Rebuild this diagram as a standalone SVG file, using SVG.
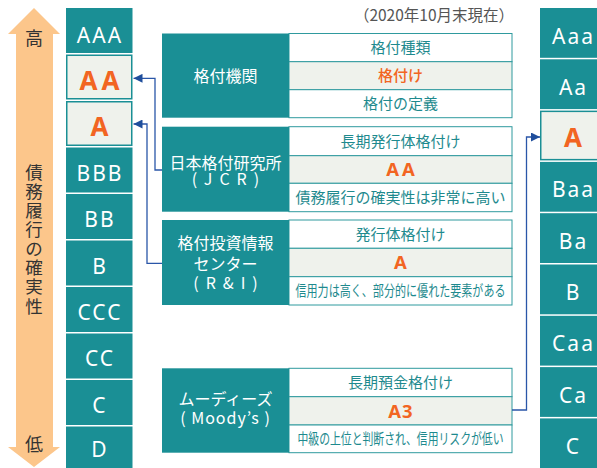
<svg xmlns="http://www.w3.org/2000/svg" width="597" height="468" viewBox="0 0 597 468">
<defs>
<style>
.cell{fill:#1a8f95}
.hl{fill:#eff2ec;stroke:#1a8f95;stroke-width:1.5}
.rt{font-family:"Noto Sans","Noto Sans CJK JP",sans-serif;font-size:21px;fill:#fff;text-anchor:middle;letter-spacing:2px}
.ro{font-family:"Noto Sans","Noto Sans CJK JP",sans-serif;font-size:26px;font-weight:bold;fill:#f26522;text-anchor:middle;letter-spacing:4px}
.jp{font-family:"Noto Sans CJK JP",sans-serif}
.lbl{font-family:"Noto Sans CJK JP",sans-serif;font-size:16px;fill:#fff;text-anchor:middle}
.tt{font-family:"Noto Sans CJK JP",sans-serif;font-size:15px;fill:#1e8a8e;text-anchor:middle}
.to{font-family:"Noto Sans CJK JP",sans-serif;font-size:15px;font-weight:500;fill:#f26522;text-anchor:middle}
.tb{font-family:"Noto Sans","Noto Sans CJK JP",sans-serif;font-size:18.5px;font-weight:bold;fill:#f26522;text-anchor:middle}
.box{fill:#fff;stroke:#2f9a9e;stroke-width:1}
.mid{fill:#eff2ec;stroke:#2f9a9e;stroke-width:1}
.con{fill:none;stroke:#2a56a8;stroke-width:1.3}
</style>
<marker id="ah" viewBox="0 0 10 10" refX="10" refY="5" markerUnits="userSpaceOnUse" markerWidth="9" markerHeight="9" orient="auto">
<path d="M0,0 L10,5 L0,10 z" fill="#1f4e9c"/>
</marker>
</defs>

<g id="axis">
<polygon points="34,8 60,34 53,34 53,447 60,447 34,467 8,447 16,447 16,34 8,34" fill="#fcc68b"/>
<text class="jp" x="34" y="45" font-size="18" fill="#333" text-anchor="middle">高</text>
<text class="jp" x="34" y="451" font-size="18" fill="#333" text-anchor="middle">低</text>
<text class="jp" font-size="17.5" fill="#333" text-anchor="middle">
<tspan x="34" y="179">債</tspan><tspan x="34" y="198">務</tspan><tspan x="34" y="217">履</tspan><tspan x="34" y="236">行</tspan><tspan x="34" y="255">の</tspan><tspan x="34" y="274">確</tspan><tspan x="34" y="293">実</tspan><tspan x="34" y="313">性</tspan>
</text>
</g>

<g id="scale-left">
<rect class="cell" x="66" y="8" width="66.5" height="45"/>
<text class="rt" x="100" y="42.5">AAA</text>
<rect class="hl" x="66.75" y="55.25" width="65" height="43.5"/>
<text class="ro" x="101.5" y="90">AA</text>
<rect class="hl" x="66.75" y="101.75" width="65" height="43.5"/>
<text class="ro" x="101.5" y="136" font-size="27">A</text>
<rect class="cell" x="66" y="147.5" width="66.5" height="45"/>
<text class="rt" x="100" y="180.5">BBB</text>
<rect class="cell" x="66" y="194" width="66.5" height="45"/>
<text class="rt" x="100" y="227">BB</text>
<rect class="cell" x="66" y="240.5" width="66.5" height="45"/>
<text class="rt" x="100" y="273.5">B</text>
<rect class="cell" x="66" y="287" width="66.5" height="45"/>
<text class="rt" x="100" y="320">CCC</text>
<rect class="cell" x="66" y="333.5" width="66.5" height="45"/>
<text class="rt" x="100" y="366">CC</text>
<rect class="cell" x="66" y="380" width="66.5" height="45"/>
<text class="rt" x="100" y="412.5">C</text>
<rect class="cell" x="66" y="426.5" width="66.5" height="42"/>
<text class="rt" x="100" y="457">D</text>
</g>

<g id="scale-right">
<rect class="cell" x="540" y="8" width="66" height="49.8"/>
<text class="rt" x="573.5" y="43.5">Aaa</text>
<rect class="cell" x="540" y="59.3" width="66" height="49.8"/>
<text class="rt" x="573.5" y="94.8">Aa</text>
<rect class="hl" x="540.75" y="111.35" width="66" height="48.3"/>
<text class="ro" x="575" y="147" font-size="24">A</text>
<rect class="cell" x="540" y="161.9" width="66" height="49.8"/>
<text class="rt" x="573.5" y="197.4">Baa</text>
<rect class="cell" x="540" y="213.2" width="66" height="49.8"/>
<text class="rt" x="573.5" y="248.7">Ba</text>
<rect class="cell" x="540" y="264.5" width="66" height="49.8"/>
<text class="rt" x="573.5" y="300">B</text>
<rect class="cell" x="540" y="315.8" width="66" height="49.8"/>
<text class="rt" x="573.5" y="351.3">Caa</text>
<rect class="cell" x="540" y="367.1" width="66" height="49.8"/>
<text class="rt" x="573.5" y="402.6">Ca</text>
<rect class="cell" x="540" y="418.4" width="66" height="50"/>
<text class="rt" x="573.5" y="453.9">C</text>
</g>

<g id="date-note">
<text class="jp" x="514" y="21" font-size="15.5" fill="#555" text-anchor="end">（2020年10月末現在）</text>
</g>

<g id="header-table">
<rect class="box" x="289" y="33.5" width="223" height="28.2"/>
<rect class="mid" x="289" y="61.7" width="223" height="28"/>
<rect class="box" x="289" y="89.7" width="223" height="28"/>
<rect class="cell" x="162" y="33.5" width="127" height="84.2"/>
<text class="lbl" x="225.5" y="81.5" font-size="16.5">格付機関</text>
<text class="tt" x="400.5" y="53">格付種類</text>
<text class="to" x="400.5" y="81">格付け</text>
<text class="tt" x="400.5" y="109">格付の定義</text>
</g>

<g id="jcr">
<rect class="box" x="289" y="126.7" width="223" height="29"/>
<rect class="mid" x="289" y="155.7" width="223" height="27.6"/>
<rect class="box" x="289" y="183.3" width="223" height="28.4"/>
<rect class="cell" x="162" y="126.7" width="127" height="85"/>
<text class="lbl" x="225.5" y="168.5">日本格付研究所</text>
<text class="lbl" x="229" y="185" letter-spacing="7">(JCR)</text>
<text class="tt" x="400.5" y="146.5">長期発行体格付け</text>
<text class="tb" x="402" y="176" letter-spacing="3">AA</text>
<text class="tt" x="400.5" y="203">債務履行の確実性は非常に高い</text>
</g>

<g id="ri">
<rect class="box" x="289" y="220" width="223" height="28.3"/>
<rect class="mid" x="289" y="248.3" width="223" height="28.4"/>
<rect class="box" x="289" y="276.7" width="223" height="28.3"/>
<rect class="cell" x="162" y="220" width="127" height="85"/>
<text class="lbl" x="225.5" y="248.5">格付投資情報</text>
<text class="lbl" x="225.5" y="270">センター</text>
<text class="lbl" x="229" y="288.5" letter-spacing="7">(R&amp;I)</text>
<text class="tt" x="400.5" y="239.5">発行体格付け</text>
<text class="tb" x="400.5" y="269" font-size="18">A</text>
<text class="tt" x="400.5" y="296" font-size="13.5" textLength="210" lengthAdjust="spacingAndGlyphs">信用力は高く、部分的に優れた要素がある</text>
</g>

<g id="moodys">
<rect class="box" x="289" y="368.3" width="223" height="28.4"/>
<rect class="mid" x="289" y="396.7" width="223" height="28.3"/>
<rect class="box" x="289" y="425" width="223" height="27.7"/>
<rect class="cell" x="162" y="368.3" width="127" height="84.4"/>
<text class="lbl" x="225.5" y="404.5">ムーディーズ</text>
<text class="lbl" x="225.5" y="423.5" letter-spacing="1">( Moody’s )</text>
<text class="tt" x="400.5" y="388">長期預金格付け</text>
<text class="tb" x="401" y="417.5" font-size="19.5" letter-spacing="1">A3</text>
<text class="tt" x="400.5" y="444" font-size="13.5" textLength="206" lengthAdjust="spacingAndGlyphs">中級の上位と判断され、信用リスクが低い</text>
</g>

<g id="connectors">
<path class="con" d="M162,170 H155 V78.3 H133.5" marker-end="url(#ah)"/>
<path class="con" d="M162,263.3 H147 V124 H133.5" marker-end="url(#ah)"/>
<path class="con" d="M512,410 H526.5 V137 H540" marker-end="url(#ah)"/>
</g>
</svg>
